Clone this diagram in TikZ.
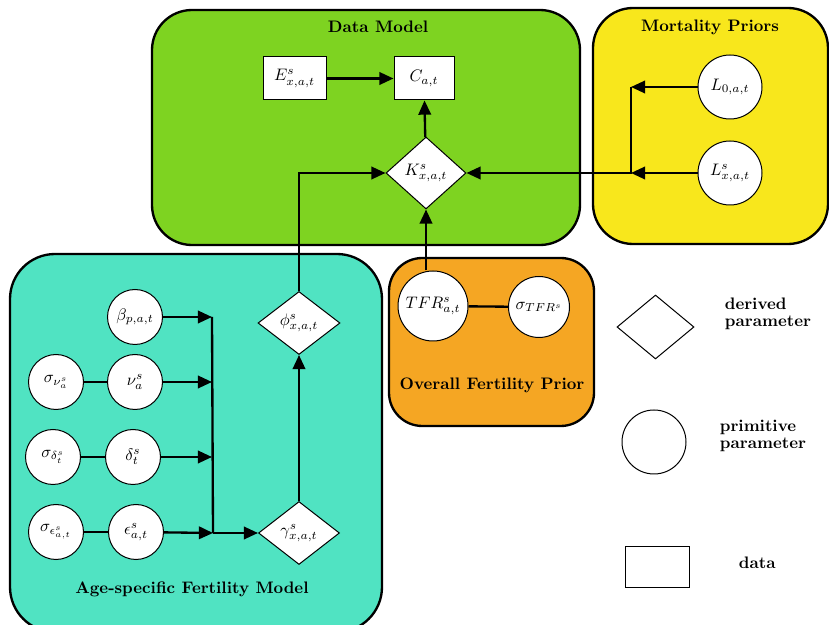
\documentclass[tikz,border=0pt]{standalone}
\usetikzlibrary{shapes.geometric,arrows.meta,calc}
\definecolor{dmgreen}{RGB}{126,211,33}
\definecolor{mpyellow}{RGB}{248,231,28}
\definecolor{afturq}{RGB}{80,227,194}
\definecolor{oforange}{RGB}{245,166,35}
\begin{document}
\begin{tikzpicture}[x=0.6pt,y=-0.6pt,
  group/.style={draw=black,line width=1.4pt,rounded corners=24pt},
  title/.style={font=\bfseries},
  prim/.style={circle,draw=black,fill=white,line width=0.6pt,inner sep=0pt},
  deriv/.style={diamond,draw=black,fill=white,line width=0.6pt,inner sep=0pt},
  datab/.style={rectangle,draw=black,fill=white,line width=0.6pt,inner sep=0pt},
  conn/.style={line width=1.4pt},
  arr/.style={line width=1.4pt,-{Triangle[length=8.5pt,width=7.5pt]}},
  legtxt/.style={font=\bfseries,align=left,anchor=west}
]
\useasboundingbox (0,0) rectangle (829,625);
\clip (0,0) rectangle (829,625);

% group boxes
\draw[group,fill=dmgreen] (152,10) rectangle (580,245);
\draw[group,fill=mpyellow] (593,8) rectangle (828,244);
\draw[group,fill=afturq,rounded corners=27pt] (10,254) rectangle (382,632);
\draw[group,fill=oforange,rounded corners=20pt] (389,258) rectangle (594,426);

\node[title] (tdm) at (378,27) {Data Model};
\node[title] (tmp) at (710,27) {Mortality Priors};
\node[title] (tof) at (492,385) {Overall Fertility Prior};
\node[title] (taf) at (192,589) {Age-specific Fertility Model};

% data model
\node[datab,minimum width=37.8pt,minimum height=25.8pt] (E) at (294.5,78.5) {$E^s_{x,a,t}$};
\node[datab,minimum width=36pt,minimum height=25.8pt] (C) at (424,78.5) {$C_{a,t}$};
\node[deriv,minimum width=48pt,minimum height=43.2pt] (K) at (426,173) {$K^s_{x,a,t}$};

% mortality priors
\node[prim,minimum size=38.4pt] (L0) at (730,87) {$L_{0,a,t}$};
\node[prim,minimum size=38.4pt] (Lx) at (730,173) {$L^s_{x,a,t}$};
\coordinate (jL0) at (631,87);
\coordinate (jLx) at (631,173);

% overall fertility prior
\node[prim,minimum size=42pt] (TFR) at (433,306) {$TFR^s_{a,t}$};
\node[prim,minimum size=36.6pt] (sTFR) at (539,307) {$\sigma_{TFR^s}$};

% age-specific fertility model
\node[prim,minimum size=33pt] (beta) at (135,317) {$\beta_{p,a,t}$};
\node[prim,minimum size=33pt] (nu) at (135,382) {$\nu^s_a$};
\node[prim,minimum size=33pt] (snu) at (56,382) {$\sigma_{\nu^s_a}$};
\node[prim,minimum size=33pt] (delta) at (133,457) {$\delta^s_t$};
\node[prim,minimum size=33pt] (sdelta) at (53,457) {$\sigma_{\delta^s_t}$};
\node[prim,minimum size=33pt] (eps) at (136,532) {$\epsilon^s_{a,t}$};
\node[prim,minimum size=33pt] (seps) at (56,532) {$\sigma_{\epsilon^s_{a,t}}$};
\node[deriv,minimum width=49.2pt,minimum height=37.8pt] (phi) at (299,323) {$\phi^s_{x,a,t}$};
\node[deriv,minimum width=48.6pt,minimum height=37.8pt] (gamma) at (299,533) {$\gamma^s_{x,a,t}$};
\coordinate (jb) at (212,317);
\coordinate (jn) at (212,382);
\coordinate (jd) at (212,457);
\coordinate (je) at (213,533);

% legend
\node[deriv,minimum width=46.2pt,minimum height=38.4pt] (lgd) at (655.5,327) {};
\node[prim,minimum size=38.4pt] (lgc) at (654,442) {};
\node[datab,minimum width=38.4pt,minimum height=24.6pt] (lgr) at (657,567.5) {};
\node[legtxt] (lgdt) at (719,314) {derived\\[-2pt]parameter};
\node[legtxt] (lgct) at (714,436) {primitive\\[-2pt]parameter};
\node[legtxt] (lgrt) at (733,563) {data};

% connectors
\draw[arr] (E) -- (C);
\draw[arr] (K) -- (C);
\draw[arr] (L0) -- (jL0);
\draw[arr] (Lx) -- (jLx);
\draw[arr] (jL0) -- (jLx) -- (K.east);
\draw[arr] (TFR.north -| K.south) -- (K.south);
\draw[conn] (TFR) -- (sTFR);
\draw[arr] (phi.north) |- (K.west);
\draw[arr] (gamma.north) -- (phi.south);
\draw[arr] (beta) -- (jb);
\draw[arr] (nu) -- (jn);
\draw[arr] (delta) -- (jd);
\draw[arr] (eps) -- (je);
\draw[conn] (snu) -- (nu);
\draw[conn] (sdelta) -- (delta);
\draw[conn] (seps) -- (eps);
\draw[conn] (jb) -- (je);
\draw[arr] (je) -- (gamma.west);
\end{tikzpicture}
\end{document}
